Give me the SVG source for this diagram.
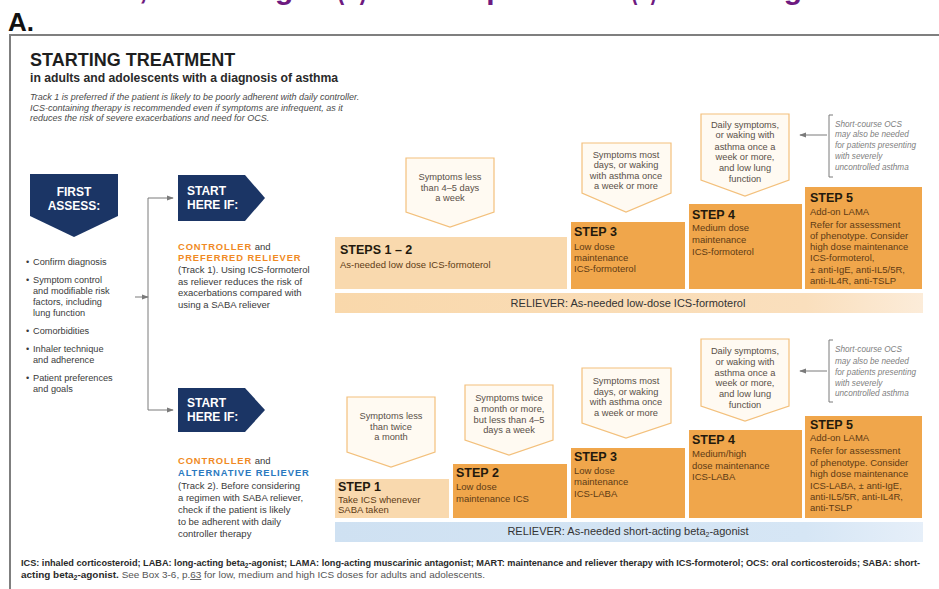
<svg xmlns="http://www.w3.org/2000/svg" width="939" height="589" viewBox="0 0 939 589">
  <style>
    text { font-family: "Liberation Sans", Arial, Helvetica, sans-serif; }
    .banner { font-size: 30px; font-weight: 700; fill: #6e1a80; }
    .letter { font-size: 26px; font-weight: 700; fill: #111; }
    .title { font-size: 18px; font-weight: 700; fill: #1e1e1e; }
    .subtitle { font-size: 12.2px; font-weight: 700; fill: #2a2a2a; }
    .intro { font-size: 9px; font-style: italic; fill: #4a4a4a; }
    .navy { fill: #1b3565; }
    .navyt { font-size: 12px; font-weight: 700; fill: #ffffff; }
    .bullet { font-size: 9.2px; fill: #3a3a3a; }
    .track { font-size: 9.5px; fill: #3a3a3a; }
    .ctrl { font-size: 9.4px; font-weight: 700; fill: #f08a24; letter-spacing: 0.9px; }
    .alt { font-size: 9.4px; font-weight: 700; fill: #2a79bf; letter-spacing: 0.9px; }
    .sym { fill: #fffaf2; stroke: #f3c07c; stroke-width: 1.2; }
    .symt { font-size: 9.3px; fill: #5a5048; text-anchor: middle; }
    .light { fill: #f9d9ae; }
    .orange { fill: #f0a64b; }
    .head { font-size: 12.5px; font-weight: 700; fill: #23190d; }
    .body { font-size: 9.5px; fill: #5e3b15; }
    .rel { font-size: 11px; fill: #333333; }
    .note { font-size: 8.2px; font-style: italic; fill: #808080; }
    .conn { stroke: #7a7a7a; stroke-width: 1; fill: none; }
    .frame { stroke: #7f7f7f; stroke-width: 2; fill: none; }
    .foot { font-size: 9.2px; fill: #2a2a2a; }
    .footb { font-weight: 700; }
    .footl { fill: #555555; font-weight: 400; }
  </style>
  <defs>
    <marker id="arrow" viewBox="0 0 8 8" refX="7" refY="4" markerWidth="7" markerHeight="7" orient="auto" markerUnits="userSpaceOnUse">
      <path d="M0,1 L8,4 L0,7 z" fill="#7a7a7a"/>
    </marker>
    <linearGradient id="relTop" x1="0" y1="0" x2="1" y2="0">
      <stop offset="0" stop-color="#f9d8ab"/>
      <stop offset="0.8" stop-color="#fadfbd"/>
      <stop offset="1" stop-color="#fcecd9"/>
    </linearGradient>
    <linearGradient id="relBot" x1="0" y1="0" x2="1" y2="0">
      <stop offset="0" stop-color="#cfe1f2"/>
      <stop offset="0.8" stop-color="#d6e6f5"/>
      <stop offset="1" stop-color="#e6eff9"/>
    </linearGradient>
  </defs>

  <rect width="939" height="589" fill="#ffffff"/>

  <!-- heading band, cut at the top edge -->
  <g id="banner">
    <text class="banner" x="29" y="-1">Asthma,</text>
    <text class="banner" x="180" y="-1">Starting</text>
    <text class="banner" x="337" y="-1" textLength="30" lengthAdjust="spacingAndGlyphs">(A)</text>
    <text class="banner" x="378" y="-1">and Stepwise</text>
    <text class="banner" x="631" y="-1" textLength="26" lengthAdjust="spacingAndGlyphs">(B)</text>
    <text class="banner" x="707" y="-1">Management</text>
  </g>

  <text class="letter" x="8" y="31">A.</text>
  <path class="frame" d="M10,589 V35 H939"/>

  <text class="title" x="30" y="66">STARTING TREATMENT</text>
  <text class="subtitle" x="30" y="82">in adults and adolescents with a diagnosis of asthma</text>
  <text class="intro" x="30" y="100">Track 1 is preferred if the patient is likely to be poorly adherent with daily controller.</text>
  <text class="intro" x="30" y="110.5">ICS-containing therapy is recommended even if symptoms are infrequent, as it</text>
  <text class="intro" x="30" y="121">reduces the risk of severe exacerbations and need for OCS.</text>

  <!-- first assessment -->
  <g id="first-assess">
    <path class="navy" d="M30,174 H118 V216 L74,237 L30,216 Z"/>
    <text class="navyt" x="74" y="196" text-anchor="middle">FIRST</text>
    <text class="navyt" x="74" y="210" text-anchor="middle">ASSESS:</text>
  </g>
  <g id="assess-list">
    <text class="bullet" x="26" y="265">•</text><text class="bullet" x="33" y="265">Confirm diagnosis</text>
    <text class="bullet" x="26" y="283">•</text><text class="bullet" x="33" y="283">Symptom control</text>
    <text class="bullet" x="33" y="294">and modifiable risk</text>
    <text class="bullet" x="33" y="305">factors, including</text>
    <text class="bullet" x="33" y="316">lung function</text>
    <text class="bullet" x="26" y="334">•</text><text class="bullet" x="33" y="334">Comorbidities</text>
    <text class="bullet" x="26" y="352">•</text><text class="bullet" x="33" y="352">Inhaler technique</text>
    <text class="bullet" x="33" y="363">and adherence</text>
    <text class="bullet" x="26" y="381">•</text><text class="bullet" x="33" y="381">Patient preferences</text>
    <text class="bullet" x="33" y="392">and goals</text>
  </g>

  <!-- connectors -->
  <g id="connectors">
    <path class="conn" d="M135,297 H148" marker-end="url(#arrow)"/>
    <path class="conn" d="M148,198 V410"/>
    <path class="conn" d="M148,198 H173" marker-end="url(#arrow)"/>
    <path class="conn" d="M148,410 H173" marker-end="url(#arrow)"/>
    <path class="conn" d="M827,135 H800" marker-end="url(#arrow)"/>
    <path class="conn" d="M827,371 H800" marker-end="url(#arrow)"/>
    <path class="conn" d="M833,115 H829 V177 H833"/>
    <path class="conn" d="M833,340 H829 V402 H833"/>
  </g>

  <!-- track 1 -->
  <g id="start-track1">
    <path class="navy" d="M178,175 H245 L265,198 L245,221 H178 Z"/>
    <text class="navyt" x="187" y="195">START</text>
    <text class="navyt" x="187" y="209">HERE IF:</text>
    <text x="178" y="250"><tspan class="ctrl">CONTROLLER</tspan><tspan class="track"> and</tspan></text>
    <text class="ctrl" x="178" y="261">PREFERRED RELIEVER</text>
    <text class="track" x="178" y="273">(Track 1). Using ICS-formoterol</text>
    <text class="track" x="178" y="285">as reliever reduces the risk of</text>
    <text class="track" x="178" y="296">exacerbations compared with</text>
    <text class="track" x="178" y="308">using a SABA reliever</text>
  </g>

  <g id="t1-sym12">
    <path class="sym" d="M406,158 H494 V212 L450,227 L406,212 Z"/>
    <text class="symt" x="450" y="180">Symptoms less</text>
    <text class="symt" x="450" y="191">than 4–5 days</text>
    <text class="symt" x="450" y="201">a week</text>
  </g>
  <g id="t1-sym3">
    <path class="sym" d="M582,143 H671 V193 L626,212 L582,193 Z"/>
    <text class="symt" x="626" y="158">Symptoms most</text>
    <text class="symt" x="626" y="168">days, or waking</text>
    <text class="symt" x="626" y="179">with asthma once</text>
    <text class="symt" x="626" y="189">a week or more</text>
  </g>
  <g id="t1-sym4">
    <path class="sym" d="M701,114 H789 V180 L745,196 L701,180 Z"/>
    <text class="symt" x="745" y="128">Daily symptoms,</text>
    <text class="symt" x="745" y="138">or waking with</text>
    <text class="symt" x="745" y="150">asthma once a</text>
    <text class="symt" x="745" y="160">week or more,</text>
    <text class="symt" x="745" y="171">and low lung</text>
    <text class="symt" x="745" y="182">function</text>
  </g>
  <g id="t1-ocs">
    <text class="note" x="835" y="127">Short-course OCS</text>
    <text class="note" x="835" y="137">may also be needed</text>
    <text class="note" x="835" y="148">for patients presenting</text>
    <text class="note" x="835" y="159">with severely</text>
    <text class="note" x="835" y="170">uncontrolled asthma</text>
  </g>

  <g id="t1-steps12">
    <rect class="light" x="335" y="237" width="232" height="52"/>
    <text class="head" x="340" y="254">STEPS 1 – 2</text>
    <text class="body" x="340" y="268">As-needed low dose ICS-formoterol</text>
  </g>
  <g id="t1-step3">
    <rect class="orange" x="571" y="222" width="114" height="67"/>
    <text class="head" x="574" y="236">STEP 3</text>
    <text class="body" x="574" y="250">Low dose</text>
    <text class="body" x="574" y="261">maintenance</text>
    <text class="body" x="574" y="272">ICS-formoterol</text>
  </g>
  <g id="t1-step4">
    <rect class="orange" x="689" y="204" width="113" height="85"/>
    <text class="head" x="692" y="219">STEP 4</text>
    <text class="body" x="692" y="231">Medium dose</text>
    <text class="body" x="692" y="243">maintenance</text>
    <text class="body" x="692" y="255">ICS-formoterol</text>
  </g>
  <g id="t1-step5">
    <rect class="orange" x="805" y="187" width="117" height="102"/>
    <text class="head" x="810" y="202">STEP 5</text>
    <text class="body" x="810" y="215">Add-on LAMA</text>
    <text class="body" x="810" y="228">Refer for assessment</text>
    <text class="body" x="810" y="239">of phenotype. Consider</text>
    <text class="body" x="810" y="250">high dose maintenance</text>
    <text class="body" x="810" y="261">ICS-formoterol,</text>
    <text class="body" x="810" y="273">± anti-IgE, anti-IL5/5R,</text>
    <text class="body" x="810" y="284">anti-IL4R, anti-TSLP</text>
  </g>
  <g id="t1-reliever">
    <rect x="335" y="293" width="588" height="20" fill="url(#relTop)"/>
    <text class="rel" x="628" y="307" text-anchor="middle">RELIEVER: As-needed low-dose ICS-formoterol</text>
  </g>

  <!-- track 2 -->
  <g id="start-track2">
    <path class="navy" d="M178,388 H245 L265,410 L245,432 H178 Z"/>
    <text class="navyt" x="187" y="407">START</text>
    <text class="navyt" x="187" y="421">HERE IF:</text>
    <text x="178" y="464"><tspan class="ctrl">CONTROLLER</tspan><tspan class="track"> and</tspan></text>
    <text class="alt" x="178" y="476">ALTERNATIVE RELIEVER</text>
    <text class="track" x="178" y="489">(Track 2). Before considering</text>
    <text class="track" x="178" y="501">a regimen with SABA reliever,</text>
    <text class="track" x="178" y="513">check if the patient is likely</text>
    <text class="track" x="178" y="525">to be adherent with daily</text>
    <text class="track" x="178" y="537">controller therapy</text>
  </g>

  <g id="t2-sym1">
    <path class="sym" d="M347,397 H435 V452 L391,467 L347,452 Z"/>
    <text class="symt" x="391" y="419">Symptoms less</text>
    <text class="symt" x="391" y="430">than twice</text>
    <text class="symt" x="391" y="440">a month</text>
  </g>
  <g id="t2-sym2">
    <path class="sym" d="M465,385 H553 V440 L509,455 L465,440 Z"/>
    <text class="symt" x="509" y="401">Symptoms twice</text>
    <text class="symt" x="509" y="412">a month or more,</text>
    <text class="symt" x="509" y="423">but less than 4–5</text>
    <text class="symt" x="509" y="433">days a week</text>
  </g>
  <g id="t2-sym3">
    <path class="sym" d="M582,368 H671 V423 L626,438 L582,423 Z"/>
    <text class="symt" x="626" y="384">Symptoms most</text>
    <text class="symt" x="626" y="395">days, or waking</text>
    <text class="symt" x="626" y="405">with asthma once</text>
    <text class="symt" x="626" y="416">a week or more</text>
  </g>
  <g id="t2-sym4">
    <path class="sym" d="M701,339 H789 V406 L745,421 L701,406 Z"/>
    <text class="symt" x="745" y="354">Daily symptoms,</text>
    <text class="symt" x="745" y="365">or waking with</text>
    <text class="symt" x="745" y="376">asthma once a</text>
    <text class="symt" x="745" y="386">week or more,</text>
    <text class="symt" x="745" y="397">and low lung</text>
    <text class="symt" x="745" y="408">function</text>
  </g>
  <g id="t2-ocs">
    <text class="note" x="835" y="352">Short-course OCS</text>
    <text class="note" x="835" y="364">may also be needed</text>
    <text class="note" x="835" y="375">for patients presenting</text>
    <text class="note" x="835" y="386">with severely</text>
    <text class="note" x="835" y="396">uncontrolled asthma</text>
  </g>

  <g id="t2-step1">
    <rect class="light" x="335" y="479" width="114" height="39"/>
    <text class="head" x="338" y="491">STEP 1</text>
    <text class="body" x="338" y="503">Take ICS whenever</text>
    <text class="body" x="338" y="513">SABA taken</text>
  </g>
  <g id="t2-step2">
    <rect class="orange" x="453" y="464" width="114" height="54"/>
    <text class="head" x="456" y="477">STEP 2</text>
    <text class="body" x="456" y="490">Low dose</text>
    <text class="body" x="456" y="502">maintenance ICS</text>
  </g>
  <g id="t2-step3">
    <rect class="orange" x="571" y="448" width="114" height="70"/>
    <text class="head" x="574" y="461">STEP 3</text>
    <text class="body" x="574" y="474">Low dose</text>
    <text class="body" x="574" y="485">maintenance</text>
    <text class="body" x="574" y="497">ICS-LABA</text>
  </g>
  <g id="t2-step4">
    <rect class="orange" x="689" y="430" width="113" height="88"/>
    <text class="head" x="692" y="444">STEP 4</text>
    <text class="body" x="692" y="457">Medium/high</text>
    <text class="body" x="692" y="469">dose maintenance</text>
    <text class="body" x="692" y="480">ICS-LABA</text>
  </g>
  <g id="t2-step5">
    <rect class="orange" x="805" y="416" width="117" height="102"/>
    <text class="head" x="810" y="429">STEP 5</text>
    <text class="body" x="810" y="441">Add-on LAMA</text>
    <text class="body" x="810" y="454">Refer for assessment</text>
    <text class="body" x="810" y="466">of phenotype. Consider</text>
    <text class="body" x="810" y="477">high dose maintenance</text>
    <text class="body" x="810" y="489">ICS-LABA, ± anti-IgE,</text>
    <text class="body" x="810" y="500">anti-IL5/5R, anti-IL4R,</text>
    <text class="body" x="810" y="511">anti-TSLP</text>
  </g>
  <g id="t2-reliever">
    <rect x="335" y="522" width="588" height="20" fill="url(#relBot)"/>
    <text class="rel" x="628" y="535" text-anchor="middle">RELIEVER: As-needed short-acting beta<tspan font-size="7px" dy="2">2</tspan><tspan dy="-2">-agonist</tspan></text>
  </g>

  <!-- abbreviations -->
  <text class="foot footb" x="21" y="566" textLength="899" lengthAdjust="spacingAndGlyphs">ICS: inhaled corticosteroid; LABA: long-acting beta<tspan font-size="6.5px" dy="2">2</tspan><tspan dy="-2">-agonist; LAMA: long-acting muscarinic antagonist; MART: maintenance and reliever therapy with ICS-formoterol; OCS: oral corticosteroids; SABA: short-</tspan></text>
  <text class="foot" x="21" y="578" textLength="464" lengthAdjust="spacingAndGlyphs"><tspan class="footb">acting beta</tspan><tspan class="footb" font-size="6.5px" dy="2">2</tspan><tspan class="footb" dy="-2">-agonist.</tspan><tspan class="footl"> See Box 3-6, p.</tspan><tspan class="footl" text-decoration="underline">63</tspan><tspan class="footl"> for low, medium and high ICS doses for adults and adolescents.</tspan></text>
</svg>
